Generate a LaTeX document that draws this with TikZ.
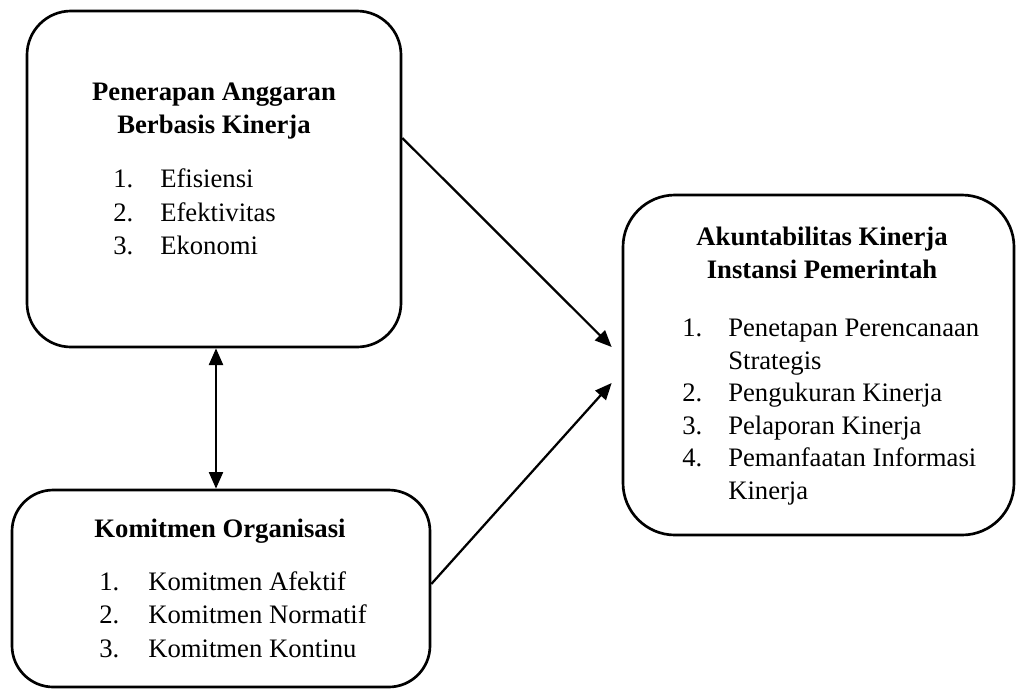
\documentclass[tikz,border=0pt]{standalone}
\usepackage{fontspec}
\setmainfont{Liberation Serif}
\usetikzlibrary{arrows.meta}
\begin{document}
\begin{tikzpicture}[x=0.75pt,y=-0.75pt,
  box/.style={draw,line width=2pt,inner sep=0pt},
  ttl/.style={anchor=base,inner sep=0pt,font=\fontsize{20}{24}\selectfont\bfseries},
  itm/.style={anchor=base west,inner sep=0pt,font=\fontsize{20}{24}\selectfont},
  arr/.style={line width=1.7pt,-{Triangle[length=12.5pt,width=10.5pt]}},
  darr/.style={line width=1.7pt,{Triangle[length=12.5pt,width=10.5pt]}-{Triangle[length=12.5pt,width=10.5pt]}}]
\useasboundingbox (0,0) rectangle (1016,690);
% boxes
\node[box,rounded corners=33pt,minimum width=280.5pt,minimum height=252pt] (b1) at (214,179) {};
\node[box,rounded corners=31pt,minimum width=313.5pt,minimum height=147.75pt] (b2) at (221,588.5) {};
\node[box,rounded corners=39pt,minimum width=293.25pt,minimum height=255pt] (b3) at (818.5,365) {};
% box 1 text
\node[ttl] (t1a) at (214,100) {Penerapan Anggaran};
\node[ttl] (t1b) at (214,133) {Berbasis Kinerja};
\node[itm] (n11) at (113,187) {1.};
\node[itm] (i11) at (160,187) {Efisiensi};
\node[itm] (n12) at (113,221) {2.};
\node[itm] (i12) at (160,221) {Efektivitas};
\node[itm] (n13) at (113,254) {3.};
\node[itm] (i13) at (160,254) {Ekonomi};
% box 2 text
\node[ttl] (t2a) at (220,537) {Komitmen Organisasi};
\node[itm] (n21) at (99,590) {1.};
\node[itm] (i21) at (148,590) {Komitmen Afektif};
\node[itm] (n22) at (99,623) {2.};
\node[itm] (i22) at (148,623) {Komitmen Normatif};
\node[itm] (n23) at (99,657) {3.};
\node[itm] (i23) at (148,657) {Komitmen Kontinu};
% box 3 text
\node[ttl] (t3a) at (822,245) {Akuntabilitas Kinerja};
\node[ttl] (t3b) at (822,278) {Instansi Pemerintah};
\node[itm] (n31) at (682,336) {1.};
\node[itm] (i31) at (728,336) {Penetapan Perencanaan};
\node[itm] (i31b) at (728,369) {Strategis};
\node[itm] (n32) at (682,401) {2.};
\node[itm] (i32) at (728,401) {Pengukuran Kinerja};
\node[itm] (n33) at (682,434) {3.};
\node[itm] (i33) at (728,434) {Pelaporan Kinerja};
\node[itm] (n34) at (682,466) {4.};
\node[itm] (i34) at (728,466) {Pemanfaatan Informasi};
\node[itm] (i34b) at (728,499) {Kinerja};
% connectors
\coordinate (s1) at ([yshift=30.75pt]b1.east);
\coordinate (e1) at ([xshift=-7.5pt,yshift=13.5pt]b3.west);
\coordinate (s2) at ([yshift=3.4pt]b2.east);
\coordinate (e2) at ([xshift=-7.5pt,yshift=-13.5pt]b3.west);
\coordinate (d1) at ([xshift=1.5pt]b1.south);
\draw[arr] (s1) -- (e1);
\draw[arr] (s2) -- (e2);
\draw[darr] (d1) -- (d1 |- b2.north);
\end{tikzpicture}
\end{document}
